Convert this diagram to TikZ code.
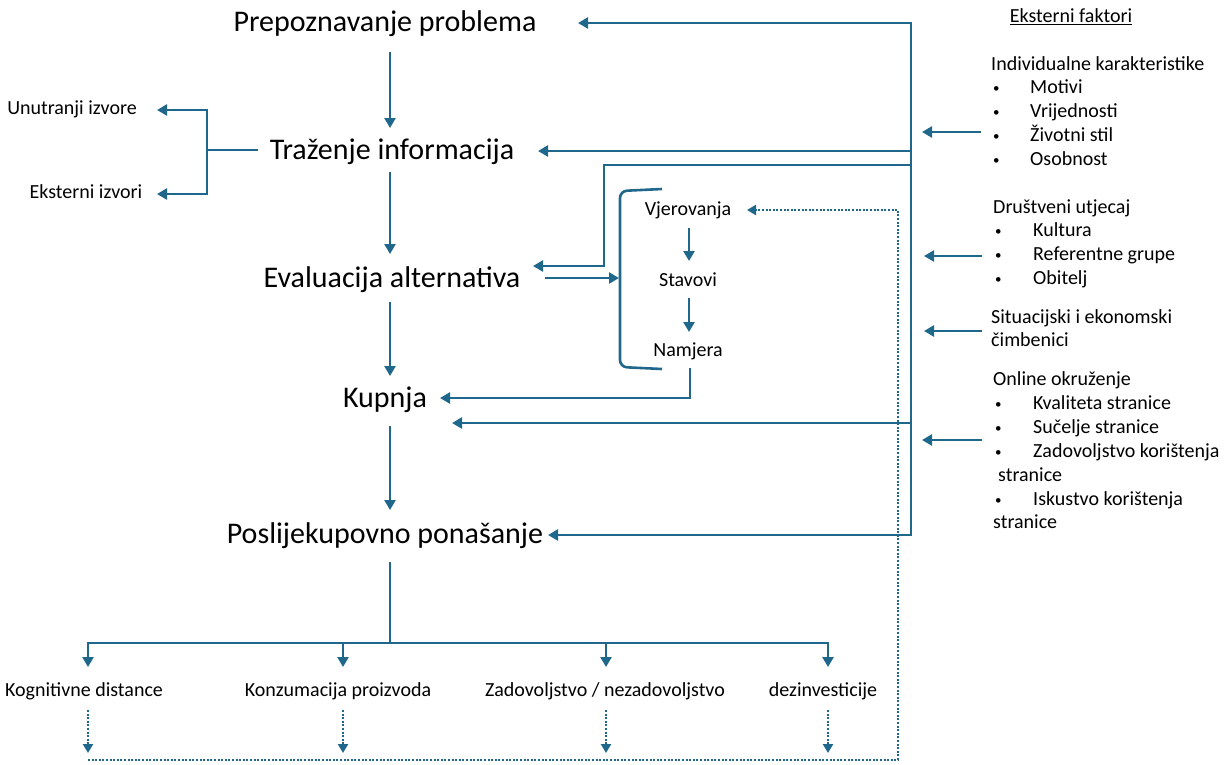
\documentclass[tikz,border=0pt]{standalone}
\usepackage{fontspec}
\setmainfont{Carlito}
\usetikzlibrary{arrows.meta}
\definecolor{tl}{RGB}{31,104,139}
\newcommand{\bul}[1]{\makebox[#1][l]{\raisebox{1pt}{\fontsize{13}{13}\selectfont •}}}
\begin{document}
\begin{tikzpicture}[x=1pt,y=-1pt,
 tip/.style={-{Triangle[length=10pt,width=11pt]}},
 arr/.style={draw=tl, line width=2.6pt, tip},
 ln/.style={draw=tl, line width=2.6pt},
 dt/.style={draw=tl, line width=2.4pt, dash pattern=on 2pt off 1.6pt},
 dta/.style={dt, -{Triangle[length=9pt,width=10pt]}},
 big/.style={font=\fontsize{30}{34}\selectfont, inner sep=0pt, text height=21pt, text depth=7pt},
 sm/.style={font=\fontsize{20}{24}\selectfont, inner sep=0pt, text height=14pt, text depth=5pt},
 rt/.style={sm, anchor=west},
 tt/.style={{Triangle[length=10pt,width=11pt]}-{Triangle[length=10pt,width=11pt]}, draw=tl, line width=2.6pt},
]
\useasboundingbox (0,0) rectangle (1229,764);

% ---- main column
\node[big] (prep) at (385,24) {Prepoznavanje problema};
\node[big] (traz) at (392,152) {Traženje informacija};
\node[big] (eval) at (392,280) {Evaluacija alternativa};
\node[big] (kup)  at (385,400) {Kupnja};
\node[big] (posl) at (385,536) {Poslijekupovno ponašanje};
\coordinate (p1) at (390,52);  \coordinate (p1e) at (390,128);
\coordinate (p2) at (390,172); \coordinate (p2e) at (390,254);
\coordinate (p3) at (390,302); \coordinate (p3e) at (390,376);
\coordinate (p4) at (390,426); \coordinate (p4e) at (390,510);
\draw[arr] (p1) -- (p1e);
\draw[arr] (p2) -- (p2e);
\draw[arr] (p3) -- (p3e);
\draw[arr] (p4) -- (p4e);

% ---- information sources
\node[sm] (unu) at (72,110) {Unutranji izvore};
\node[sm] (eks) at (86,194) {Eksterni izvori};
\coordinate (sj) at (207,150);
\coordinate (sa) at (258,150);
\draw[ln] (sa) -- (sj);
\draw[tt] (157,110) coordinate (ua) -- (207,110) -- (207,194) -- (157,194) coordinate (ea);

% ---- right bus
\coordinate (b1) at (911,23);
\coordinate (b2) at (911,151);
\coordinate (b3) at (911,165);
\coordinate (b4) at (911,423);
\coordinate (b5) at (911,535);
\coordinate (t1) at (578,23);
\coordinate (t2) at (538,151);
\coordinate (t3) at (533,266);
\coordinate (t4) at (452,423);
\coordinate (t5) at (548,535);
\draw[tt] (t1) -- (b1) -- (b5) -- (t5);
\draw[arr] (b2) -- (t2);
\draw[arr] (b3) -- (604,165) -- (604,266) -- (t3);
\draw[arr] (b4) -- (t4);

% ---- belief / attitude / intention
\node[sm] (vje) at (688,211) {Vjerovanja};
\node[sm] (sta) at (688,282) {Stavovi};
\node[sm] (nam) at (688,352) {Namjera};
\draw[ln, rounded corners=7pt] (662,189) -- (620,191) -- (620,367) -- (662,369);
\coordinate (ev1) at (545,278); \coordinate (ev2) at (619,278);
\draw[arr] (ev1) -- (ev2);
\draw[arr] (689,228) -- (689,261);
\draw[arr] (689,298) -- (689,332);
\coordinate (n1) at (690,368); \coordinate (k1) at (440,398);
\draw[arr] (n1) -- (690,398) -- (k1);

% ---- post-purchase outcomes
\coordinate (pj) at (390,643);
\draw[ln] (390,562) -- (pj);
\draw[ln] (88,643) -- (828,643);
\node[sm] (kd) at (84,692) {Kognitivne distance};
\node[sm] (kp) at (338,692) {Konzumacija proizvoda};
\node[sm] (zn) at (605,692) {Zadovoljstvo / nezadovoljstvo};
\node[sm] (dz) at (823,692) {dezinvesticije};
\foreach \x/\n in {88/a,343/b,606/c,828/d}{
  \draw[arr] (\x,642) coordinate (s\n) -- (\x,667) coordinate (e\n);
  \draw[dta] (\x,710) coordinate (ds\n) -- (\x,753) coordinate (de\n);
}
\coordinate (fb) at (898,760);
\coordinate (vt) at (747,210);
\draw[dta] (88,760) -- (fb) -- (898,210) -- (vt);

% ---- external factors
\node[sm] (ef) at (1071,18) {\underline{Eksterni faktori}};
\node[rt] (ind) at (991,66) {Individualne karakteristike};
\foreach \t [count=\i] in {Motivi,Vrijednosti,Životni stil,Osobnost}{
  \node[rt] (ia\i) at (993,65+24*\i) {\bul{37pt}\t};
}
\node[rt] (dru) at (993,209) {Društveni utjecaj};
\foreach \t [count=\i] in {Kultura,Referentne grupe,Obitelj}{
  \node[rt] (da\i) at (995,208+24*\i) {\bul{38pt}\t};
}
\node[rt] (sit1) at (991,319) {Situacijski i ekonomski};
\node[rt] (sit2) at (991,342) {čimbenici};
\node[rt] (onl) at (993,381) {Online okruženje};
\node[rt] (o1) at (995,405) {\bul{38pt}Kvaliteta stranice};
\node[rt] (o2) at (995,429) {\bul{38pt}Sučelje stranice};
\node[rt] (o3) at (995,453) {\bul{38pt}Zadovoljstvo korištenja};
\node[rt] (o4) at (998,477) {stranice};
\node[rt] (o5) at (995,501) {\bul{38pt}Iskustvo korištenja};
\node[rt] (o6) at (993,524) {stranice};

\coordinate (r1) at (981,132); \coordinate (r1e) at (922,132);
\coordinate (r2) at (982,256); \coordinate (r2e) at (924,256);
\coordinate (r3) at (982,331); \coordinate (r3e) at (924,331);
\coordinate (r4) at (982,440); \coordinate (r4e) at (922,440);
\draw[arr] (r1) -- (r1e);
\draw[arr] (r2) -- (r2e);
\draw[arr] (r3) -- (r3e);
\draw[arr] (r4) -- (r4e);
\end{tikzpicture}
\end{document}
